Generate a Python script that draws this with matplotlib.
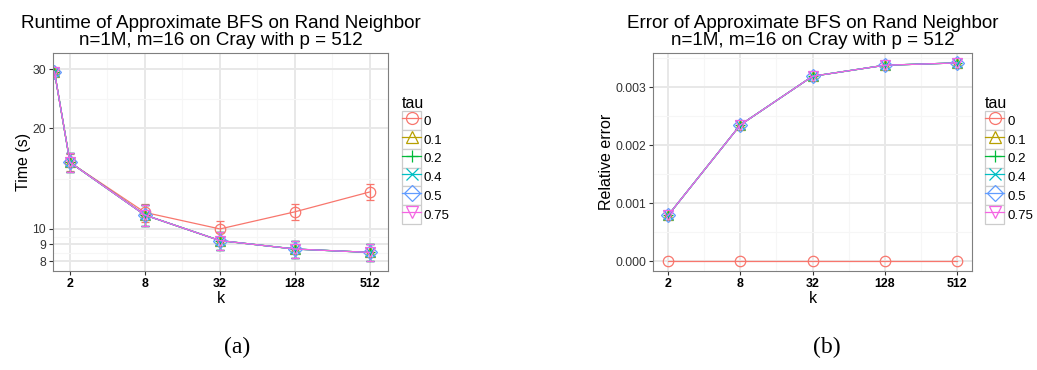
import matplotlib
matplotlib.use("Agg")
import matplotlib.pyplot as plt
from matplotlib.lines import Line2D
from matplotlib.ticker import FixedLocator, NullFormatter
from matplotlib.legend_handler import HandlerLine2D
from matplotlib.patches import Rectangle

plt.rcParams['font.family'] = ['Liberation Sans', 'DejaVu Sans']

# --- data ---
taus = ['0', '0.1', '0.2', '0.4', '0.5', '0.75']
colors = ['#F8766D', '#B79F00', '#00BA38', '#00BFC4', '#619CFF', '#F564E3']
markers = ['o', '^', '+', 'x', 'D', 'v']

# (a) runtime, first point sits left of k=2
k_time = [1.5, 2, 8, 32, 128, 512]
time_tau0 = [29.5, 15.8, 11.2, 10.0, 11.25, 12.9]
time_tau0_err = [0.6, 0.9, 0.7, 0.55, 0.6, 0.7]
time_approx = [29.5, 15.8, 11.0, 9.23, 8.71, 8.51]
time_approx_err = [0.6, 1.0, 0.8, 0.55, 0.5, 0.5]

# (b) relative error
k_err = [2, 8, 32, 128, 512]
relerr_tau0 = [0.0, 0.0, 0.0, 0.0, 0.0]
relerr_approx = [0.00079, 0.00235, 0.00319, 0.00338, 0.00342]

k_ticks = [2, 8, 32, 128, 512]
time_ticks = [8, 9, 10, 20, 30]
err_ticks = [0.0, 0.001, 0.002, 0.003]


class BoxedKey(HandlerLine2D):
    # ggplot-like legend key: grey framed square behind the glyph
    def create_artists(self, legend, orig_handle, xdescent, ydescent,
                       width, height, fontsize, trans):
        box = Rectangle((-xdescent, -ydescent), width, height,
                        facecolor='white', edgecolor='#CCCCCC', lw=0.9,
                        transform=trans)
        arts = super().create_artists(legend, orig_handle, xdescent, ydescent,
                                      width, height, fontsize, trans)
        return [box] + arts


def style_axes(ax):
    for s in ax.spines.values():
        s.set_color('#7F7F7F')
        s.set_linewidth(0.8)
    ax.set_axisbelow(True)
    ax.grid(which='major', color='#E8E8E8', lw=1.4)
    ax.grid(which='minor', color='#F6F6F6', lw=0.8)
    ax.tick_params(which='major', length=3, width=0.8, color='#333333')
    ax.tick_params(which='minor', length=0)
    ax.tick_params(axis='y', labelsize=8.7, labelcolor='#333333', pad=2)
    ax.tick_params(axis='x', labelsize=8.9, labelcolor='black', pad=2)
    for lab in ax.get_xticklabels():
        lab.set_fontweight('bold')
    ax.xaxis.set_minor_locator(FixedLocator([4, 16, 64, 256]))
    ax.xaxis.set_minor_formatter(NullFormatter())


fig = plt.figure(figsize=(10.37, 3.70), dpi=100)
ax1 = fig.add_axes([53 / 1037, 99 / 370, 335 / 1037, 218 / 370])
ax2 = fig.add_axes([653 / 1037, 99 / 370, 319 / 1037, 218 / 370])

# ---- (a) runtime ----
for i, tau in enumerate(taus):
    y = time_tau0 if i == 0 else time_approx
    e = time_tau0_err if i == 0 else time_approx_err
    mfc = colors[i] if markers[i] in '+x' else 'none'
    ax1.errorbar(k_time, y, yerr=e, color=colors[i], lw=0.9, capsize=3,
                 elinewidth=0.9, capthick=0.9, marker=markers[i],
                 ms=7.5, mfc=mfc, mec=colors[i], mew=0.9, label=tau)
ax1.set_xscale('log', base=2)
ax1.set_yscale('log')
ax1.set_xlim(2 ** 0.547, 2 ** 9.48)
ax1.set_ylim(7.49, 33.5)
ax1.set_xticks(k_ticks)
ax1.set_xticklabels([str(k) for k in k_ticks])
ax1.set_yticks(time_ticks)
ax1.set_yticklabels([str(t) for t in time_ticks])
ax1.yaxis.set_minor_locator(FixedLocator([8.49, 9.49, 14.14, 24.49]))
ax1.yaxis.set_minor_formatter(NullFormatter())
style_axes(ax1)
ax1.set_xlabel('k', fontsize=11.5, labelpad=1)
ax1.set_ylabel('Time (s)', fontsize=11.5, labelpad=1)
ax1.set_title('Runtime of Approximate BFS on Rand Neighbor\n'
              'n=1M, m=16 on Cray with p = 512', fontsize=13.6,
              linespacing=0.95, pad=6)

# ---- (b) relative error ----
for i, tau in enumerate(taus):
    y = relerr_tau0 if i == 0 else relerr_approx
    mfc = colors[i] if markers[i] in '+x' else 'none'
    ax2.plot(k_err, y, color=colors[i], lw=0.9, marker=markers[i],
             ms=7.5, mfc=mfc, mec=colors[i], mew=0.9, label=tau)
ax2.set_xscale('log', base=2)
ax2.set_xlim(2 ** 0.585, 2 ** 9.415)
ax2.set_ylim(-0.000167, 0.003591)
ax2.set_xticks(k_ticks)
ax2.set_xticklabels([str(k) for k in k_ticks])
ax2.set_yticks(err_ticks)
ax2.set_yticklabels(['%.3f' % v for v in err_ticks])
ax2.yaxis.set_minor_locator(FixedLocator([0.0005, 0.0015, 0.0025, 0.0035]))
ax2.yaxis.set_minor_formatter(NullFormatter())
style_axes(ax2)
ax2.set_xlabel('k', fontsize=11.5, labelpad=1)
ax2.set_ylabel('Relative error', fontsize=11.5, labelpad=1)
ax2.set_title('Error of Approximate BFS on Rand Neighbor\n'
              'n=1M, m=16 on Cray with p = 512', fontsize=13.6,
              linespacing=0.95, pad=6)

# ---- legends ----
keys = [Line2D([], [], color=c, lw=0.9, marker=m, ms=8.6,
               mfc=(c if m in '+x' else 'none'), mec=c, mew=0.9)
        for c, m in zip(colors, markers)]
for xl in (402 / 1037, 985 / 1037):
    fig.legend(keys, taus, loc='upper left',
               bbox_to_anchor=(xl, 1 - 96 / 370), frameon=False,
               fontsize=9.6, title='tau', title_fontsize=11.5,
               alignment='left', borderpad=0, borderaxespad=0,
               labelspacing=0, handlelength=1.45, handleheight=1.8,
               handletextpad=0.2, numpoints=1,
               handler_map={Line2D: BoxedKey()})

fig.text(237 / 1037, 1 - 347 / 370, '(a)', family='Liberation Serif',
         fontsize=17, ha='center', va='center')
fig.text(827 / 1037, 1 - 347 / 370, '(b)', family='Liberation Serif',
         fontsize=17, ha='center', va='center')

fig.savefig('out.png', dpi=100)
